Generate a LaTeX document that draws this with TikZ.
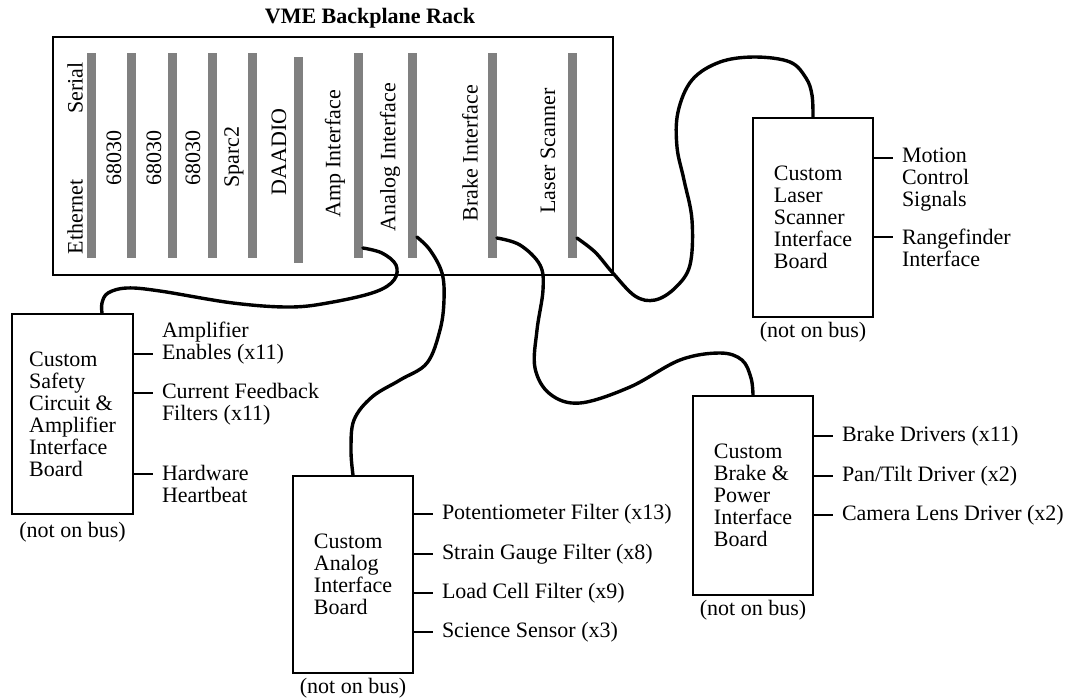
\documentclass[tikz,border=0pt]{standalone}
\usepackage{fontspec}
\setmainfont{Liberation Serif}
\usetikzlibrary{positioning}

\begin{document}
\begin{tikzpicture}[
	  x=0.5pt, y=-0.5pt,
	  every node/.style={font=\fontsize{11}{11}\selectfont},
	  board/.style={draw, line width=1pt, minimum width=60pt, minimum height=99.5pt, align=left, inner sep=0pt},
	  slot/.style={fill=gray, minimum width=4.5pt, minimum height=102.5pt, inner sep=0pt},
	  card/.style={rotate=90, inner sep=0pt},
	  lbl/.style={anchor=west, align=left, inner sep=0pt, outer xsep=4.5pt},
	  nob/.style={inner sep=0pt},
	  tick/.style={line width=0.9pt},
	  cable/.style={line width=1.7pt, line join=round, line cap=round},
	]
	\useasboundingbox (0,0) rectangle (1072,698);

	% the rack and its cards
	\node [draw, line width=0.8pt, minimum width=280pt, minimum height=119pt, inner sep=0pt] (rack) at (333,156) {};
	\node [font=\fontsize{11}{11}\selectfont\bfseries] (racktitle) at (370,18) {VME Backplane Rack};

	\node [slot] (netbar) at (91,155.5) {};
	\node [slot] (cpuabar) at (131,155.5) {};
	\node [slot] (cpubbar) at (172,155.5) {};
	\node [slot] (cpucbar) at (212,155.5) {};
	\node [slot] (sparcbar) at (252,155.5) {};
	\node [slot, minimum height=103pt] (daadiobar) at (298,160) {};
	\node [slot] (ampbar) at (358,155.5) {};
	\node [slot] (analogbar) at (412,155.5) {};
	\node [slot] (brakebar) at (492,155.5) {};
	\node [slot] (laserbar) at (572,155.5) {};

	\node [card] (ethernet) at (75,217) {Ethernet};
	\node [card] (serial) at (75,88) {Serial};
	\node [card] (cpua) at (114,158) {68030};
	\node [card] (cpub) at (154,158) {68030};
	\node [card] (cpuc) at (193,158) {68030};
	\node [card] (sparc) at (234,157) {Sparc2};
	\node [card] (daadio) at (279,152) {DAADIO};
	\node [card] (amp) at (335,154) {Amp Interface};
	\node [card] (analogif) at (390,157) {Analog Interface};
	\node [card] (brakeif) at (470,153) {Brake Interface};
	\node [card] (laserif) at (548,151) {Laser Scanner};

	% boards off the bus
	\node [board, minimum width=60.5pt, minimum height=100pt] (safety) at (72.5,414) {Custom\\Safety\\Circuit \&\\Amplifier\\Interface\\Board};
	\node [board] (laser) at (813,217.5) {Custom\\Laser\\Scanner\\Interface\\Board};
	\node [board, minimum height=98.5pt] (analog) at (353,574.5) {Custom\\Analog\\Interface\\Board};
	\node [board] (brake) at (753,495.5) {Custom\\Brake \&\\Power\\Interface\\Board};

	\node [nob, below=3.5pt of safety] (safetynb) {(not on bus)};
	\node [nob, below=2pt of laser] (lasernb) {(not on bus)};
	\node [nob, below=2pt of analog] (analognb) {(not on bus)};
	\node [nob, below=2pt of brake] (brakenb) {(not on bus)};

	% safety board signals
	\coordinate (enb) at (153,354);
	\coordinate (cfb) at (153,393);
	\coordinate (hhb) at (153,474);
	\node [lbl] (enbl) at (153,343) {Amplifier\\Enables (x11)};
	\node [lbl] (cfbl) at (153,404) {Current Feedback\\Filters (x11)};
	\node [lbl] (hhbl) at (153,484) {Hardware\\Heartbeat};
	\draw [tick] (safety.east |- enb) -- (enb);
	\draw [tick] (safety.east |- cfb) -- (cfb);
	\draw [tick] (safety.east |- hhb) -- (hhb);

	% laser board signals
	\coordinate (mcs) at (893,158);
	\coordinate (rfi) at (893,237);
	\node [lbl] (mcsl) at (893,180) {Motion\\Control\\Signals};
	\node [lbl] (rfil) at (893,248) {Rangefinder\\Interface};
	\draw [tick] (laser.east |- mcs) -- (mcs);
	\draw [tick] (laser.east |- rfi) -- (rfi);

	% analog board signals
	\node [lbl] (potf) at (433,514) {Potentiometer Filter (x13)};
	\node [lbl] (sgf) at (433,554) {Strain Gauge Filter (x8)};
	\node [lbl] (lcf) at (433,593) {Load Cell Filter (x9)};
	\node [lbl] (scis) at (433,632) {Science Sensor (x3)};
	\draw [tick] (analog.east |- potf.west) -- (potf.west);
	\draw [tick] (analog.east |- sgf.west) -- (sgf.west);
	\draw [tick] (analog.east |- lcf.west) -- (lcf.west);
	\draw [tick] (analog.east |- scis.west) -- (scis.west);

	% brake board signals
	\node [lbl] (brkd) at (833,436) {Brake Drivers (x11)};
	\node [lbl] (ptd) at (833,476) {Pan/Tilt Driver (x2)};
	\node [lbl] (cld) at (833,515) {Camera Lens Driver (x2)};
	\draw [tick] (brake.east |- brkd.west) -- (brkd.west);
	\draw [tick] (brake.east |- ptd.west) -- (ptd.west);
	\draw [tick] (brake.east |- cld.west) -- (cld.west);

	% cables from the cards to the boards
	\coordinate (ampjack) at (ampbar.east |- 0,248);
	\coordinate (analogjack) at (analogbar.east |- 0,237);
	\coordinate (brakejack) at (brakebar.east |- 0,238);
	\coordinate (laserjack) at (laserbar.east |- 0,238);
	\coordinate (safetyin) at (safety.north -| 102,0);

	\draw [cable] plot [smooth, tension=0.6] coordinates {(ampjack) (382,253) (396,265) (394,280) (375,292) (333,302) (291,307) (233,303) (160,291) (127,288) (108,293) (102,303) (safetyin)};
	\draw [cable] plot [smooth, tension=0.6] coordinates {(analogjack) (430,250) (442,273) (444,300) (440,330) (427,363) (400,380) (372,397) (354,420) (351,450) (analog.north)};
	\draw [cable] plot [smooth, tension=0.6] coordinates {(brakejack) (520,245) (540,265) (543,290) (537,330) (535,368) (550,394) (580,403) (630,387) (680,360) (720,353) (742,360) (751,378) (brake.north)};
	\draw [cable] plot [smooth, tension=0.6] coordinates {(laserjack) (595,252) (612,272) (635,296) (655,300) (675,288) (690,265) (692,220) (684,180) (677,147) (678,112) (692,80) (720,62) (755,57) (790,62) (806,78) (812,95) (laser.north)};
\end{tikzpicture}
\end{document}
